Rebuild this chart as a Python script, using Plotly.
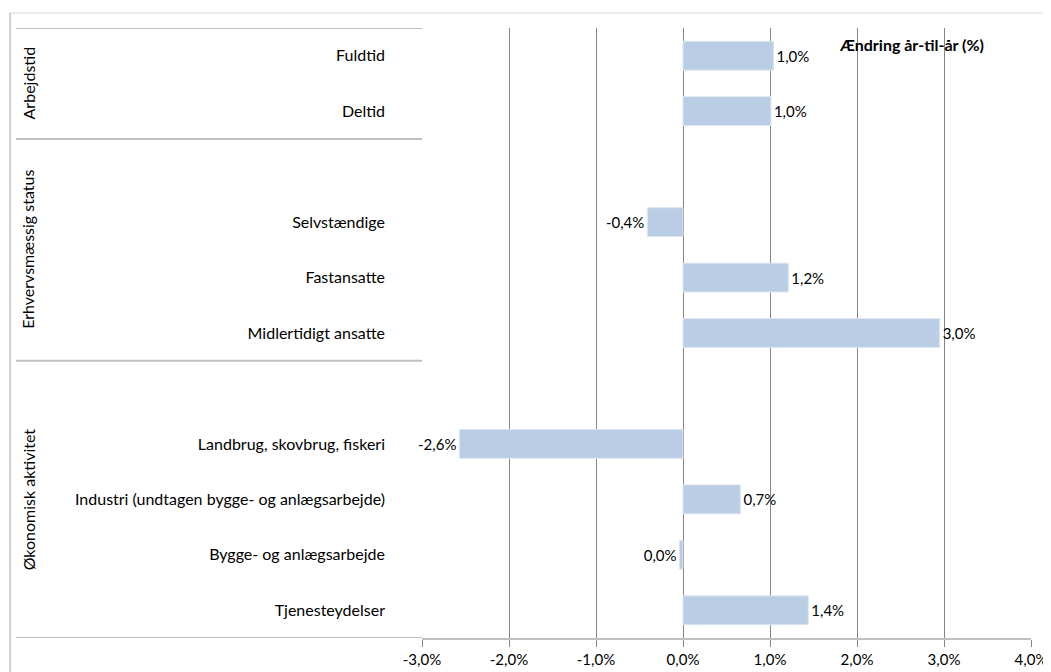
import plotly.graph_objects as go

# ---- data ----
categories = [
    "Fuldtid", "Deltid", "",
    "Selvstændige", "Fastansatte", "Midlertidigt ansatte", "",
    "Landbrug, skovbrug, fiskeri",
    "Industri (undtagen bygge- og anlægsarbejde)",
    "Bygge- og anlægsarbejde", "Tjenesteydelser",
]
values = [1.04, 1.01, None, -0.41, 1.21, 2.95, None, -2.57, 0.66, -0.04, 1.44]
value_labels = ["1,0%", "1,0%", "", "-0,4%", "1,2%", "3,0%", "", "-2,6%", "0,7%", "0,0%", "1,4%"]
groups = ["Arbejdstid", "Erhvervsmæssig status", "Økonomisk aktivitet"]
group_spans = [(0, 1), (2, 5), (6, 10)]  # row index ranges
x_ticks = [-3, -2, -1, 0, 1, 2, 3, 4]
x_ticktext = ["-3,0%", "-2,0%", "-1,0%", "0,0%", "1,0%", "2,0%", "3,0%", "4,0%"]
title_text = "Ændring år-til-år (%)"

positions = list(range(len(categories)))
FONT = "Lato"

# page body has an 8px default margin; work in figure coordinates
OFF = 8
W, H = 1051 - OFF, 672 - OFF
ML, MT = 422 - OFF, 28 - OFF
MR = W - (1031 - OFF)
MB = H - (638 - OFF)
PW = W - ML - MR
PH = H - MT - MB

def px_to_paper_x(px):  # px in page coordinates
    return (px - OFF - ML) / PW

def py_to_paper_y(py):
    return (H - MB - (py - OFF)) / PH

fig = go.Figure()
fig.add_trace(go.Bar(
    y=positions, x=values, orientation="h",
    width=0.52,
    marker=dict(color="#b9cde5", line=dict(color="#dce6f2", width=1)),
    text=value_labels, textposition="outside", cliponaxis=False,
    textfont=dict(family=FONT, size=15, color="#000000"),
    hoverinfo="skip",
))

shapes = []
sep_rows = [group_spans[0][0] - 0.5] + [g[1] + 0.5 for g in group_spans]
for r in sep_rows:
    shapes.append(dict(type="line", xref="paper", yref="y",
                       x0=px_to_paper_x(16), x1=0, y0=r, y1=r,
                       line=dict(color="#bfbfbf", width=2), layer="below"))
shapes.append(dict(type="line", xref="paper", yref="paper",
                   x0=px_to_paper_x(10), x1=px_to_paper_x(1060),
                   y0=py_to_paper_y(13), y1=py_to_paper_y(13),
                   line=dict(color="#d9d9d9", width=1)))
shapes.append(dict(type="line", xref="paper", yref="paper",
                   x0=px_to_paper_x(10), x1=px_to_paper_x(10),
                   y0=py_to_paper_y(13), y1=py_to_paper_y(680),
                   line=dict(color="#bfbfbf", width=1.5)))

annotations = []
for name, (a, b) in zip(groups, group_spans):
    annotations.append(dict(
        text=name, xref="paper", yref="y",
        x=px_to_paper_x(28), y=(a + b) / 2,
        textangle=-90, showarrow=False, xanchor="center", yanchor="middle",
        font=dict(family=FONT, size=16, color="#000000"),
    ))
annotations.append(dict(
    text="<b>" + title_text + "</b>", xref="paper", yref="paper",
    x=px_to_paper_x(911), y=py_to_paper_y(44), showarrow=False,
    xanchor="center", yanchor="middle",
    font=dict(family=FONT, size=16, color="#000000"),
))

fig.update_layout(
    width=W, height=H,
    margin=dict(l=ML, r=MR, t=MT, b=MB, autoexpand=False),
    plot_bgcolor="white", paper_bgcolor="white",
    showlegend=False,
    shapes=shapes, annotations=annotations,
    font=dict(family=FONT, size=15, color="#000000"),
    xaxis=dict(
        range=[-3, 4], tickvals=x_ticks, ticktext=x_ticktext,
        showgrid=True, gridcolor="#868686", gridwidth=1,
        zeroline=False,
        showline=True, linecolor="#bfbfbf", linewidth=2,
        ticks="outside", ticklen=7, tickcolor="#868686", tickwidth=1,
        tickfont=dict(family=FONT, size=15, color="#000000"),
        automargin=False,
        fixedrange=True,
    ),
    yaxis=dict(
        range=[len(categories) - 0.5, -0.5],
        tickvals=positions, ticktext=categories,
        showgrid=False, zeroline=False, showline=False,
        ticks="", ticklabelstandoff=36,
        tickfont=dict(family=FONT, size=16, color="#000000"),
        automargin=False,
        fixedrange=True,
    ),
)

fig.write_html("out.html")
